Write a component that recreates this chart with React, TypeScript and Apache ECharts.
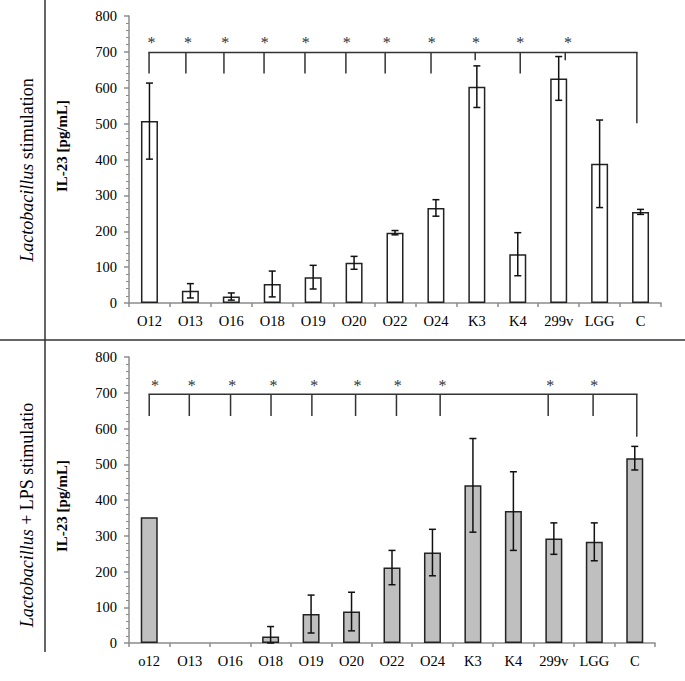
import React, { useEffect, useRef } from "react";
import * as echarts from "echarts";

// ---- Data ----
const categoriesTop = ["O12", "O13", "O16", "O18", "O19", "O20", "O22", "O24", "K3", "K4", "299v", "LGG", "C"];
const categoriesBottom = ["o12", "O13", "O16", "O18", "O19", "O20", "O22", "O24", "K3", "K4", "299v", "LGG", "C"];
const meanTop = [507, 34, 18, 53, 72, 112, 196, 265, 603, 136, 626, 388, 254];
const errTop = [106, 20, 10, 36, 33, 18, 6, 23, 58, 60, 61, 122, 7];
const meanBottom = [352, 0, 0, 18, 81, 88, 211, 253, 441, 369, 292, 283, 517];
const errBottom = [null, null, null, 28, 53, 54, 48, 65, 131, 110, 44, 53, 33];

// significance brackets (x in category units 0..13, y in pg/mL)
const bracketLevelTop = 698;
const starLevelTop = 727;
const dropXTop = [0.49, 1.39, 2.32, 3.3, 4.3, 5.3, 6.26, 7.38, 8.46, 9.56, 10.66, 12.41];
const dropEndTop = [640, 640, 640, 640, 640, 640, 640, 640, 677, 640, 677, 501];
const starXTop = [0.55, 1.44, 2.35, 3.32, 4.32, 5.32, 6.3, 7.4, 8.48, 9.56, 10.73, null];

const bracketLevelBottom = 696;
const starLevelBottom = 721;
const dropXBottom = [0.5, 1.49, 2.51, 3.51, 4.52, 5.6, 6.61, 7.69, 10.36, 11.47, 12.55];
const dropEndBottom = [635, 635, 635, 635, 635, 635, 635, 635, 635, 635, 577];
const starXBottom = [0.64, 1.55, 2.55, 3.57, 4.58, 5.65, 6.64, 7.75, 10.41, 11.5, null];

const yTicks = { min: 0, max: 800, interval: 100 };

const FONT = "Liberation Serif, Times New Roman, serif";

function errorSeries(name: string, axis: number, means: number[], errs: (number | null)[]) {
  const data = means
    .map((m, i) => (errs[i] == null ? null : [i, m, errs[i] as number]))
    .filter((d) => d !== null);
  return {
    name,
    type: "custom",
    xAxisIndex: axis,
    yAxisIndex: axis,
    z: 5,
    clip: false,
    itemStyle: { color: "#111" },
    data,
    renderItem: (params: any, api: any) => {
      const i = api.value(0);
      const m = api.value(1);
      const e = api.value(2);
      const hi = api.coord([i, m + e]);
      const lo = api.coord([i, Math.max(0, m - e)]);
      const cap = 3.5;
      const st = { stroke: "#111", lineWidth: 1.5 };
      return {
        type: "group",
        children: [
          { type: "line", shape: { x1: hi[0], y1: hi[1], x2: lo[0], y2: lo[1] }, style: st },
          { type: "line", shape: { x1: hi[0] - cap, y1: hi[1], x2: hi[0] + cap, y2: hi[1] }, style: st },
          { type: "line", shape: { x1: lo[0] - cap, y1: lo[1], x2: lo[0] + cap, y2: lo[1] }, style: st },
        ],
      };
    },
  };
}

function bracketSeries(
  name: string,
  xAxisIndex: number,
  yAxisIndex: number,
  level: number,
  starLevel: number,
  dropX: number[],
  dropEnd: number[],
  starX: (number | null)[]
) {
  const data = dropX.map((x, i) => [x, dropEnd[i], starX[i] == null ? -1 : (starX[i] as number)]);
  return {
    name,
    type: "custom",
    xAxisIndex,
    yAxisIndex,
    z: 6,
    clip: false,
    silent: true,
    itemStyle: { color: "#333" },
    data,
    renderItem: (params: any, api: any) => {
      const x = api.value(0);
      const end = api.value(1);
      const sx = api.value(2);
      const top = api.coord([x, level]);
      const bot = api.coord([x, end]);
      const st = { stroke: "#333", lineWidth: 1.5 };
      const children: any[] = [
        { type: "line", shape: { x1: top[0], y1: top[1], x2: bot[0], y2: bot[1] }, style: st },
      ];
      if (params.dataIndex === 0) {
        const last = api.coord([dropX[dropX.length - 1], level]);
        children.push({
          type: "line",
          shape: { x1: top[0] - 0.75, y1: top[1], x2: last[0] + 0.75, y2: last[1] },
          style: st,
        });
      }
      if (sx >= 0) {
        const sp = api.coord([sx, starLevel]);
        children.push({
          type: "text",
          x: sp[0],
          y: sp[1],
          style: {
            text: "*",
            fill: "#333",
            fontSize: 16,
            fontFamily: FONT,
            align: "center",
            verticalAlign: "middle",
          },
        });
      }
      return { type: "group", children };
    },
  };
}

function catAxis(gridIndex: number, data: string[]) {
  return {
    type: "category",
    gridIndex,
    data,
    axisLine: { show: true, lineStyle: { color: "#8c8c8c", width: 1.5 } },
    axisTick: { show: true, length: 4, lineStyle: { color: "#8c8c8c", width: 1.5 } },
    axisLabel: { fontSize: 14.5, fontFamily: FONT, color: "#000", margin: 10, interval: 0 },
  };
}

function valXAxis(gridIndex: number) {
  return { type: "value", gridIndex, min: 0, max: 13, show: false };
}

function valYAxis(gridIndex: number) {
  return {
    type: "value",
    gridIndex,
    min: yTicks.min,
    max: yTicks.max,
    interval: yTicks.interval,
    splitLine: { show: false },
    axisLine: { show: true, lineStyle: { color: "#8c8c8c", width: 1.5 } },
    axisTick: { show: true, length: 5, lineStyle: { color: "#8c8c8c", width: 1.5 } },
    minorTick: { show: true, splitNumber: 5, length: 3, lineStyle: { color: "#8c8c8c", width: 1 } },
    axisLabel: { fontSize: 14.5, fontFamily: FONT, color: "#000", margin: 12 },
  };
}

export default function App() {
  const ref = useRef<HTMLDivElement>(null);
  useEffect(() => {
    if (!ref.current) return;
    const chart = echarts.init(ref.current, undefined, { renderer: "svg" });
    const lineSt = { stroke: "#333", lineWidth: 1.5 };
    chart.setOption({
      animation: false,
      backgroundColor: "#fff",
      grid: [
        { left: 129, top: 16, width: 532, height: 287 },
        { left: 129, top: 357, width: 526, height: 286 },
      ],
      xAxis: [catAxis(0, categoriesTop), catAxis(1, categoriesBottom), valXAxis(0), valXAxis(1)],
      yAxis: [valYAxis(0), valYAxis(1)],
      series: [
        {
          name: "Lactobacillus stimulation",
          type: "bar",
          xAxisIndex: 0,
          yAxisIndex: 0,
          barWidth: 17,
          data: meanTop,
          itemStyle: { color: "#ffffff", borderColor: "#222", borderWidth: 1.5 },
        },
        {
          name: "Lactobacillus + LPS stimulation",
          type: "bar",
          xAxisIndex: 1,
          yAxisIndex: 1,
          barWidth: 17,
          data: meanBottom.map((v) => (v === 0 ? "-" : v)),
          itemStyle: { color: "#bfbfbf", borderColor: "#222", borderWidth: 1.5 },
        },
        errorSeries("errTop", 0, meanTop, errTop),
        errorSeries("errBottom", 1, meanBottom, errBottom),
        bracketSeries("sigTop", 2, 0, bracketLevelTop, starLevelTop, dropXTop, dropEndTop, starXTop),
        bracketSeries("sigBottom", 3, 1, bracketLevelBottom, starLevelBottom, dropXBottom, dropEndBottom, starXBottom),
      ],
      graphic: [
        { type: "line", shape: { x1: 45, y1: 0, x2: 45, y2: 652 }, style: lineSt },
        { type: "line", shape: { x1: 0, y1: 340, x2: 685, y2: 340 }, style: lineSt },
        {
          type: "text",
          x: 27,
          y: 170,
          rotation: Math.PI / 2,
          style: {
            text: "{i|Lactobacillus} stimulation",
            fontSize: 18,
            fontFamily: FONT,
            fill: "#000",
            align: "center",
            verticalAlign: "middle",
            rich: { i: { fontStyle: "italic", fontSize: 18, fontFamily: FONT, fill: "#000" } },
          },
        },
        {
          type: "text",
          x: 27,
          y: 515,
          rotation: Math.PI / 2,
          style: {
            text: "{i|Lactobacillus} + LPS stimulatio",
            fontSize: 18,
            fontFamily: FONT,
            fill: "#000",
            align: "center",
            verticalAlign: "middle",
            rich: { i: { fontStyle: "italic", fontSize: 18, fontFamily: FONT, fill: "#000" } },
          },
        },
        {
          type: "text",
          x: 62,
          y: 146,
          rotation: Math.PI / 2,
          style: {
            text: "IL-23 [pg/mL]",
            fontSize: 15,
            fontWeight: "bold",
            fontFamily: FONT,
            fill: "#000",
            align: "center",
            verticalAlign: "middle",
          },
        },
        {
          type: "text",
          x: 62,
          y: 506,
          rotation: Math.PI / 2,
          style: {
            text: "IL-23 [pg/mL]",
            fontSize: 15,
            fontWeight: "bold",
            fontFamily: FONT,
            fill: "#000",
            align: "center",
            verticalAlign: "middle",
          },
        },
      ],
    });
    return () => chart.dispose();
  }, []);
  return (
    <div
      ref={ref}
      style={{ position: "absolute", left: 0, top: 0, width: 685, height: 681 }}
    />
  );
}
